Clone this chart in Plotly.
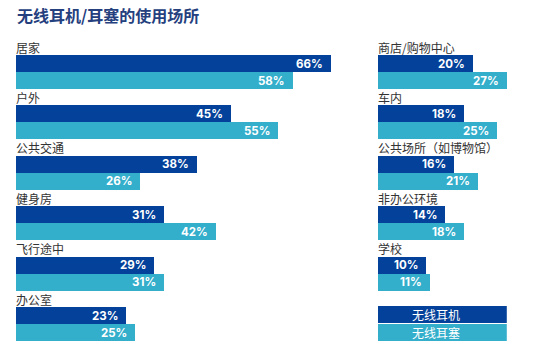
import plotly.graph_objects as go

title = "无线耳机/耳塞的使用场所"
series_names = ["无线耳机", "无线耳塞"]

left_categories = ["居家", "户外", "公共交通", "健身房", "飞行途中", "办公室"]
left_earphones = [66, 45, 38, 31, 29, 23]
left_earbuds = [58, 55, 26, 42, 31, 25]

right_categories = ["商店/购物中心", "车内", "公共场所（如博物馆）", "非办公环境", "学校"]
right_earphones = [20, 18, 16, 14, 10]
right_earbuds = [27, 25, 21, 18, 11]

DARK = "#03419a"
LIGHT = "#33aecb"
TEXT = "#333333"
TITLE_C = "#25407e"
CJK = "Noto Sans CJK SC"
NUM = "Inter"

W, H = 537, 356
PX_PER_PCT = 4.77
GROUP_STEP = 50.4
TOP0 = 55
BAR_H = 17
LX = 16
RX = 378

fig = go.Figure()
annotations = []


def add_panel(cats, s1, s2, xaxis, x0px):
    ys1 = [TOP0 + GROUP_STEP * i + BAR_H / 2 for i in range(len(cats))]
    ys2 = [y + BAR_H for y in ys1]
    for vals, ys, col in ((s1, ys1, DARK), (s2, ys2, LIGHT)):
        fig.add_trace(go.Bar(
            x=vals, y=ys, orientation="h", base=0, width=BAR_H,
            marker=dict(color=col, line=dict(width=0)),
            xaxis=xaxis, yaxis="y", showlegend=False, hoverinfo="skip",
        ))
        for v, y in zip(vals, ys):
            annotations.append(dict(
                x=v, y=y, xref=xaxis, yref="y", text=f"<b>{v}%</b>",
                showarrow=False, xanchor="right", yanchor="middle", xshift=-6,
                font=dict(family=NUM, size=11.5, color="white"),
            ))
    for i, c in enumerate(cats):
        annotations.append(dict(
            x=(x0px - 2) / W, y=TOP0 + GROUP_STEP * i - 8, xref="paper", yref="y",
            text=c, showarrow=False, xanchor="left", yanchor="middle",
            font=dict(family=CJK, size=12, color=TEXT),
        ))


add_panel(left_categories, left_earphones, left_earbuds, "x", LX)
add_panel(right_categories, right_earphones, right_earbuds, "x2", RX)

# legend boxes
leg_len = 27
shapes = []
for (y0, y1), name, col in (((306, 323), series_names[0], DARK), ((324, 341), series_names[1], LIGHT)):
    shapes.append(dict(type="rect", xref="x2", yref="y", x0=0, x1=leg_len, y0=y0, y1=y1,
                       fillcolor=col, line=dict(width=0), layer="below"))
    annotations.append(dict(
        x=leg_len / 2, y=(y0 + y1) / 2, xref="x2", yref="y", text=name, showarrow=False,
        xanchor="center", yanchor="middle", xshift=-6,
        font=dict(family=CJK, size=12, color="white"),
    ))

annotations.append(dict(
    x=15 / W, y=15, xref="paper", yref="y", text=f"<b>{title}</b>", showarrow=False,
    xanchor="left", yanchor="middle", font=dict(family=CJK, size=16, color=TITLE_C),
))

fig.update_layout(
    width=W, height=H, margin=dict(l=0, r=0, t=0, b=0),
    paper_bgcolor="white", plot_bgcolor="white",
    barmode="overlay", bargap=0,
    xaxis=dict(domain=[LX / W, (LX + 329) / W], range=[0, 329 / PX_PER_PCT], visible=False, fixedrange=True),
    xaxis2=dict(domain=[RX / W, 1], range=[0, (W - RX) / PX_PER_PCT], visible=False, fixedrange=True),
    yaxis=dict(domain=[0, 1], range=[H, 0], visible=False, fixedrange=True),
    annotations=annotations, shapes=shapes,
)

fig.write_html(
    "out.html",
    config={"displayModeBar": False, "staticPlot": True},
    post_script="document.body.style.margin='0';document.body.style.overflow='hidden';",
)
